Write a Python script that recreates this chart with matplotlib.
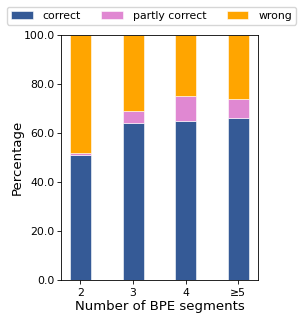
import matplotlib
matplotlib.use("Agg")
import matplotlib.pyplot as plt
import numpy as np

# === Data ===
categories = ["2", "3", "4", "≥5"]
correct = [51.0, 64.0, 65.0, 66.0]
partly_correct = [1.0, 5.0, 10.0, 8.0]
wrong = [48.0, 31.0, 25.0, 26.0]

fig = plt.figure(figsize=(3.03, 3.16), dpi=100)
ax = fig.add_axes([0.201, 0.114, 0.650, 0.775])

x = np.arange(len(categories))
w = 0.4
bottom_pc = np.array(correct)
bottom_w = bottom_pc + np.array(partly_correct)

ax.bar(x, correct, w, color="#355a96", edgecolor="white", linewidth=0.4, label="correct")
ax.bar(x, partly_correct, w, bottom=bottom_pc, color="#e088d2", edgecolor="white", linewidth=0.4, label="partly correct")
ax.bar(x, wrong, w, bottom=bottom_w, color="#ffa500", edgecolor="white", linewidth=0.4, label="wrong")

ax.set_ylim(0, 100)
ax.set_yticks([0, 20, 40, 60, 80, 100])
ax.set_yticklabels([f"{v:.1f}" for v in [0, 20, 40, 60, 80, 100]])
ax.set_xticks(x)
ax.set_xticklabels(categories)
ax.tick_params(labelsize=7.8, length=3, width=0.6, pad=2.5)
ax.tick_params(axis="y", pad=1.5)
for s in ax.spines.values():
    s.set_linewidth(0.6)
ax.set_xlabel("Number of BPE segments", fontsize=9.5, labelpad=2)
ax.set_ylabel("Percentage", fontsize=9.5, labelpad=0)

fig.legend(loc="upper center", bbox_to_anchor=(0.5, 0.995), ncol=3, fontsize=7.8,
           handlelength=2.0, columnspacing=1.9, handletextpad=0.9,
           borderpad=0.35)

fig.savefig("out.png", dpi=100)
